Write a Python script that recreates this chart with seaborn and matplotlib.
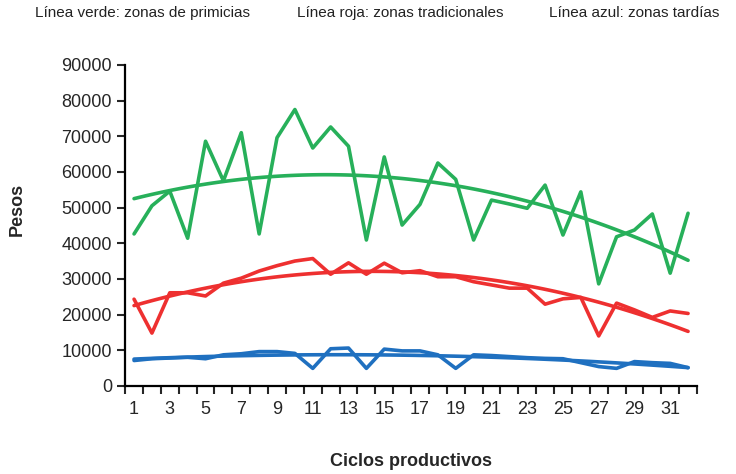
import matplotlib
matplotlib.use("Agg")
import matplotlib.pyplot as plt
import seaborn as sns
import pandas as pd

ciclos = list(range(1, 33))

# zonas de primicias (verde)
primicias = [42600, 50500, 54600, 41400, 68600, 57500, 71000, 42600, 69600, 77500,
             66700, 72600, 67200, 40900, 64200, 45100, 50900, 62500, 57900, 40900,
             52100, 51000, 49800, 56300, 42300, 54400, 28600, 41800, 43700, 48200,
             31600, 48400]
# zonas tradicionales (roja)
tradicionales = [24300, 14800, 26100, 26100, 25200, 28800, 30200, 32200, 33700, 35000,
                 35700, 31300, 34500, 31300, 34400, 31700, 32300, 30600, 30600, 29200,
                 28300, 27400, 27400, 22900, 24400, 24800, 14000, 23200, 21300, 19200,
                 21000, 20300]
# zonas tardías (azul)
tardias = [7100, 7600, 7800, 8000, 7600, 8700, 9000, 9600, 9600, 9100,
           4900, 10400, 10600, 4900, 10300, 9800, 9800, 8700, 4900, 8700,
           8500, 8200, 7900, 7700, 7600, 6500, 5400, 4900, 6800, 6500,
           6300, 5100]

df = pd.DataFrame({"ciclo": ciclos, "primicias": primicias,
                   "tradicionales": tradicionales, "tardias": tardias})

colores = {"primicias": "#27B05A", "tradicionales": "#EE3030", "tardias": "#1F70C0"}

sns.set_style("ticks")
plt.rcParams["font.family"] = ["Liberation Sans", "DejaVu Sans"]

fig = plt.figure(figsize=(7.36, 4.74), dpi=100)
ax = fig.add_axes([0.170, 0.186, 0.777, 0.677])

for serie in ["primicias", "tradicionales", "tardias"]:
    sns.lineplot(x="ciclo", y=serie, data=df, ax=ax, color=colores[serie], linewidth=2.6)
    sns.regplot(x="ciclo", y=serie, data=df, ax=ax, order=2, scatter=False, ci=None,
                color=colores[serie], line_kws={"linewidth": 2.6})

ax.set_xlim(0.5, 32.5)
ax.set_ylim(0, 90000)
ax.set_yticks(range(0, 90001, 10000))
ax.set_xticks(range(1, 33, 2))
ax.set_xticks([i + 0.5 for i in range(0, 33)], minor=True)
ax.tick_params(axis="x", which="major", length=0, labelsize=13, pad=11)
ax.tick_params(axis="x", which="minor", length=6, width=1.5, direction="out")
ax.tick_params(axis="y", length=6, width=1.5, labelsize=13)
for s in ["top", "right"]:
    ax.spines[s].set_visible(False)
for s in ["left", "bottom"]:
    ax.spines[s].set_linewidth(1.6)
    ax.spines[s].set_color("black")

ax.set_xlabel("Ciclos productivos", fontsize=13, fontweight="bold", labelpad=25)
ax.set_ylabel("Pesos", fontsize=13, fontweight="bold")
ax.yaxis.set_label_coords(-0.173, 0.55)

fig.text(0.047, 0.972, "Línea verde: zonas de primicias", fontsize=11, color="#222222", va="center")
fig.text(0.403, 0.972, "Línea roja: zonas tradicionales", fontsize=11, color="#222222", va="center")
fig.text(0.746, 0.972, "Línea azul: zonas tardías", fontsize=11, color="#222222", va="center")

fig.savefig("out.png", dpi=100)
